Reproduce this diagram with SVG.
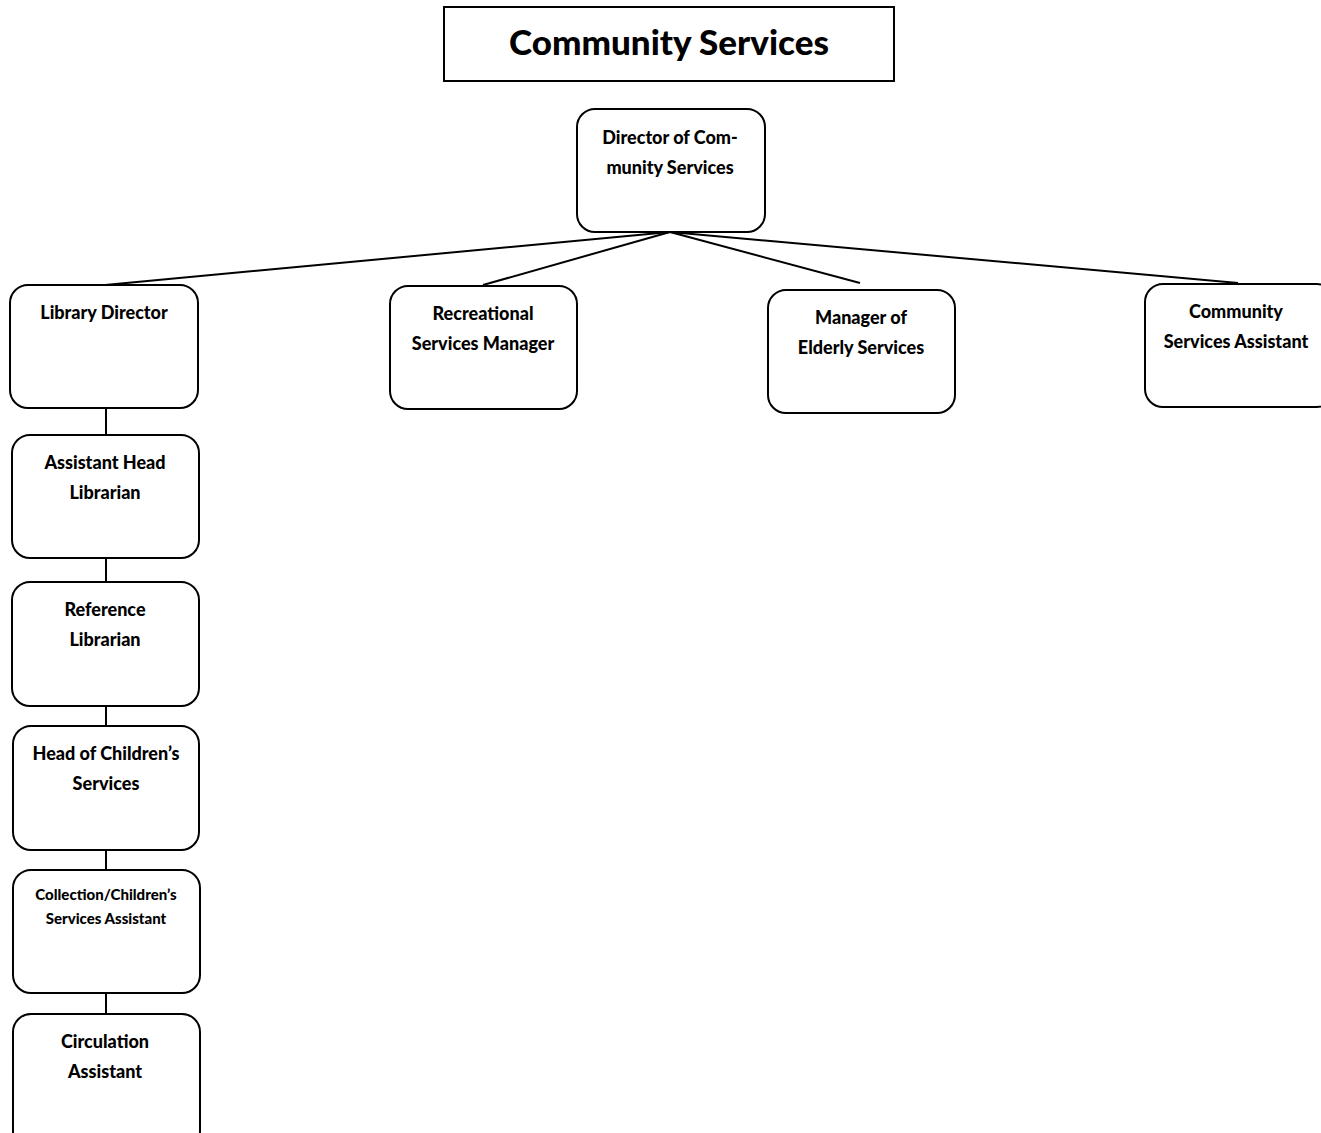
<svg xmlns="http://www.w3.org/2000/svg" width="1321" height="1133" viewBox="0 0 1321 1133">
<style>
.box{fill:#fff;stroke:#000;stroke-width:2}
.t{font-family:Lato,"Liberation Sans",sans-serif;font-weight:900;font-size:18px;fill:#000;text-anchor:middle;dominant-baseline:central}
.s{font-size:15px}
.c{stroke:#000;stroke-width:2;fill:none}
</style>
<rect width="1321" height="1133" fill="#fff"/>
<g id="title">
<rect x="444" y="7" width="450" height="74" fill="#fff" stroke="#000" stroke-width="2"/>
<text class="t" x="669" y="41" style="font-size:35px">Community Services</text>
</g>
<g id="connectors">
<line class="c" x1="670" y1="232" x2="105" y2="285"/>
<line class="c" x1="670" y1="232" x2="483" y2="285"/>
<line class="c" x1="670" y1="232" x2="860" y2="283"/>
<line class="c" x1="670" y1="232" x2="1238" y2="283"/>
<line class="c" x1="106" y1="408" x2="106" y2="435"/>
<line class="c" x1="106" y1="558" x2="106" y2="582"/>
<line class="c" x1="106" y1="706" x2="106" y2="726"/>
<line class="c" x1="106" y1="850" x2="106" y2="870"/>
<line class="c" x1="106" y1="993" x2="106" y2="1014"/>
</g>
<g id="director">
<rect class="box" x="577" y="109" width="188" height="123" rx="18"/>
<text class="t" x="670" y="137">Director of Com-</text>
<text class="t" x="670" y="167">munity Services</text>
</g>
<g id="library-director">
<rect class="box" x="10" y="285" width="188" height="123" rx="18"/>
<text class="t" x="104" y="312">Library Director</text>
</g>
<g id="recreational">
<rect class="box" x="390" y="286" width="187" height="123" rx="18"/>
<text class="t" x="483" y="313">Recreational</text>
<text class="t" x="483" y="343">Services Manager</text>
</g>
<g id="elderly">
<rect class="box" x="768" y="290" width="187" height="123" rx="18"/>
<text class="t" x="861" y="317">Manager of</text>
<text class="t" x="861" y="347">Elderly Services</text>
</g>
<g id="cs-assistant">
<rect class="box" x="1145" y="284" width="190" height="123" rx="18"/>
<text class="t" x="1236" y="311">Community</text>
<text class="t" x="1236" y="341">Services Assistant</text>
</g>
<g id="assistant-head">
<rect class="box" x="12" y="435" width="187" height="123" rx="18"/>
<text class="t" x="105" y="462">Assistant Head</text>
<text class="t" x="105" y="492">Librarian</text>
</g>
<g id="reference">
<rect class="box" x="12" y="582" width="187" height="124" rx="18"/>
<text class="t" x="105" y="609">Reference</text>
<text class="t" x="105" y="639">Librarian</text>
</g>
<g id="childrens">
<rect class="box" x="13" y="726" width="186" height="124" rx="18"/>
<text class="t" x="106" y="753">Head of Children’s</text>
<text class="t" x="106" y="783">Services</text>
</g>
<g id="collection">
<rect class="box" x="13" y="870" width="187" height="123" rx="18"/>
<text class="t s" x="106" y="894">Collection/Children’s</text>
<text class="t s" x="106" y="918">Services Assistant</text>
</g>
<g id="circulation">
<rect class="box" x="13" y="1014" width="187" height="135" rx="18"/>
<text class="t" x="105" y="1041">Circulation</text>
<text class="t" x="105" y="1071">Assistant</text>
</g>
</svg>
